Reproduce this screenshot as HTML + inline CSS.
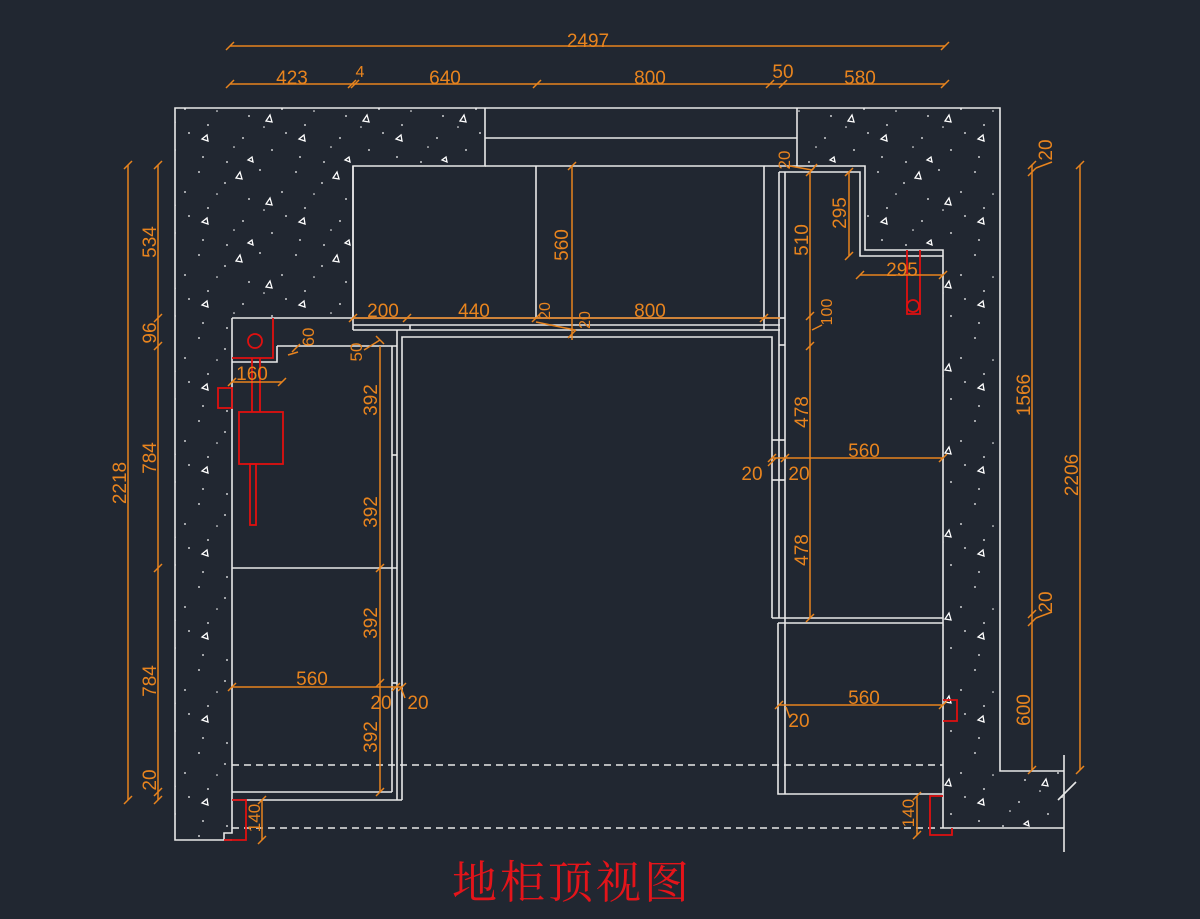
<!DOCTYPE html>
<html><head><meta charset="utf-8">
<style>
html,body{margin:0;padding:0;background:#212731;}
svg{display:block}
text{font-family:"Liberation Sans","DejaVu Sans",sans-serif;}
</style></head>
<body>
<svg width="1200" height="919" viewBox="0 0 1200 919" xmlns="http://www.w3.org/2000/svg">
<defs>
<pattern id="h" width="97" height="83" patternUnits="userSpaceOnUse">
<g fill="#fff">
<circle cx="5" cy="6" r="0.9"/><circle cx="31" cy="17" r="0.9"/><circle cx="66" cy="4" r="0.9"/><circle cx="88" cy="26" r="0.9"/>
<circle cx="14" cy="42" r="0.9"/><circle cx="49" cy="55" r="0.9"/><circle cx="78" cy="67" r="0.9"/><circle cx="9" cy="74" r="0.9"/>
<circle cx="55" cy="33" r="0.9"/><circle cx="92" cy="50" r="0.9"/><circle cx="33" cy="79" r="0.9"/><circle cx="23" cy="28" r="0.8"/>
<circle cx="70" cy="44" r="0.8"/><circle cx="40" cy="64" r="0.8"/>
</g>
<g fill="none" stroke="#fff" stroke-width="1.3">
<path d="M42 12 l4 -6 l2 7 z"/><path d="M8 56 l5 -4 l1 6 z"/><path d="M72 38 l4 -6 l2 7 z"/><path d="M58 74 l-4 3 l5 2 z"/>
</g>
</pattern>
</defs>
<rect width="1200" height="919" fill="#212731"/>
<path d="M175 108 H485 V166 H353 V317 H232 V833 H224 V840 H175 Z" fill="url(#h)"/>
<path d="M797 108 H1000 V771 H1064 V828 H943 V250 H865 V166 H797 Z" fill="url(#h)"/>

<g fill="none" stroke="#e8e8e8" stroke-width="1.6">
<path d="M232 840 H175 V108 H1000 V771 H1064"/>
<path d="M943 828 H1064"/><path d="M1064 755 V852"/>
<path d="M1058 800 L1076 782"/>
<path d="M232 318 V833 H224 V840"/>
<path d="M232 318 H353 V166 H485 V108"/>
<path d="M485 138 H797"/><path d="M485 166 H764"/>
<path d="M797 108 V166"/>
<path d="M764 166 H865 V250 H943 V828"/>
<path d="M779 172 H860 V256 H943"/>
<path d="M353 166 V330"/><path d="M536 166 V318"/>
<path d="M764 166 V330"/>
<path d="M353 318 H780"/><path d="M353 325 H780"/><path d="M353 330 H780"/>
<path d="M410 325 V330"/>
<path d="M402 800 V337 H772 V618"/>
<path d="M277 346 H397"/><path d="M277 346 V362 H232"/>
<path d="M392 346 V792"/><path d="M397 330 V800"/>
<path d="M232 568 H397"/>
<path d="M232 792 H392"/><path d="M232 800 H402"/>
<path d="M392 683 H397"/><path d="M392 455 H397"/>
<path d="M779 172 V618"/><path d="M785 172 V623"/>
<path d="M779 318 H785"/><path d="M779 345 H785"/>
<path d="M772 618 H943"/><path d="M778 623 H943"/>
<path d="M778 623 V794 H943"/><path d="M785 623 V794"/>
<path d="M772 440 H785"/><path d="M772 480 H785"/>
</g>
<g stroke="#e8e8e8" stroke-width="1.6" stroke-dasharray="7,5" fill="none">
<path d="M232 765 H943"/><path d="M232 828 H943"/>
</g>
<g fill="none" stroke="#e01010" stroke-width="1.8">
<path d="M273 318 V358 H232"/>
<circle cx="255" cy="341" r="7"/>
<path d="M252 358 V412 M260 358 V412"/>
<rect x="239" y="412" width="44" height="52"/>
<rect x="250" y="464" width="6" height="61"/>
<rect x="218" y="388" width="14" height="20"/>
<path d="M232 800 H246 V840 H224"/>
<path d="M907 250 V314 H920 V250"/>
<circle cx="913" cy="306" r="6"/>
<path d="M943 700 H957 V721 H943"/>
<path d="M943 796 H930 V835 H952 V828"/>
</g>
<g stroke="#e8841e" stroke-width="1.5" fill="none">
<path d="M230 46 H945"/><path d="M226 50 L234 42 M941 50 L949 42"/>
<path d="M230 84 H945"/>
<path d="M226 88 L234 80 M348 88 L356 80 M351 88 L359 80 M533 88 L541 80 M766 88 L774 80 M779 88 L787 80 M941 88 L949 80"/>
<path d="M128 165 V800"/><path d="M124 169 L132 161 M124 804 L132 796"/>
<path d="M158 165 V800"/>
<path d="M154 169 L162 161 M154 322 L162 314 M154 350 L162 342 M154 572 L162 564 M154 796 L162 788 M154 804 L162 796"/>
<path d="M1080 165 V770"/><path d="M1076 169 L1084 161 M1076 774 L1084 766"/>
<path d="M1032 165 V770"/>
<path d="M1028 169 L1036 161 M1028 176 L1036 168 M1028 618 L1036 610 M1028 626 L1036 618 M1028 774 L1036 766"/>
<path d="M1036 168 L1052 162 M1036 618 L1052 612"/>
<path d="M353 318 H780"/><path d="M349 322 L357 314 M403 322 L411 314 M532 322 L540 314 M760 322 L768 314"/>
<path d="M572 166 V340"/><path d="M568 170 L576 162 M568 338 L576 330"/>
<path d="M536 322 L575 330"/>
<path d="M380 346 V792"/><path d="M376 336 L384 344 M376 572 L384 564 M376 687 L384 679 M376 796 L384 788"/>
<path d="M364 350 L380 340"/>
<path d="M292 352 L300 344"/><path d="M288 355 L298 352"/>
<path d="M232 382 H282"/><path d="M228 386 L236 378 M278 386 L286 378"/>
<path d="M232 687 H402"/><path d="M228 691 L236 683 M392 691 L400 683 M398 691 L406 683"/>
<path d="M401 688 L405 698"/>
<path d="M849 172 V256"/><path d="M845 176 L853 168 M845 260 L853 252"/>
<path d="M817 164 L812 170"/><path d="M790 166 L812 170"/>
<path d="M860 275 H943"/><path d="M856 279 L864 271 M939 279 L947 271"/>
<path d="M810 172 V618"/><path d="M806 176 L814 168 M806 320 L814 312 M806 350 L814 342 M806 622 L814 614"/>
<path d="M812 330 L822 325"/>
<path d="M772 458 H943"/><path d="M768 462 L776 454 M781 462 L789 454 M939 462 L947 454"/>
<path d="M768 466 L776 458"/>
<path d="M779 705 H943"/><path d="M775 709 L783 701 M939 709 L947 701"/>
<path d="M786 707 L790 718"/>
<path d="M262 800 V840"/><path d="M258 804 L266 796 M258 844 L266 836"/>
<path d="M917 796 V835"/><path d="M913 800 L921 792 M913 839 L921 831"/>
</g>
<g fill="#e8841e" font-size="19">
<text x="588" y="47" text-anchor="middle">2497</text>
<text x="292" y="84" text-anchor="middle">423</text>
<text x="360" y="77" text-anchor="middle" font-size="16">4</text>
<text x="445" y="84" text-anchor="middle">640</text>
<text x="650" y="84" text-anchor="middle">800</text>
<text x="783" y="78" text-anchor="middle">50</text>
<text x="860" y="84" text-anchor="middle">580</text>
<text transform="translate(126,483) rotate(-90)" text-anchor="middle">2218</text>
<text transform="translate(156,242) rotate(-90)" text-anchor="middle">534</text>
<text transform="translate(156,333) rotate(-90)" text-anchor="middle">96</text>
<text transform="translate(156,458) rotate(-90)" text-anchor="middle">784</text>
<text transform="translate(156,681) rotate(-90)" text-anchor="middle">784</text>
<text transform="translate(156,780) rotate(-90)" text-anchor="middle">20</text>
<text transform="translate(1078,475) rotate(-90)" text-anchor="middle">2206</text>
<text transform="translate(1030,395) rotate(-90)" text-anchor="middle">1566</text>
<text transform="translate(1030,710) rotate(-90)" text-anchor="middle">600</text>
<text transform="translate(1052,150) rotate(-90)" text-anchor="middle">20</text>
<text transform="translate(1052,602) rotate(-90)" text-anchor="middle">20</text>
<text x="383" y="317" text-anchor="middle">200</text>
<text x="474" y="317" text-anchor="middle">440</text>
<text x="650" y="317" text-anchor="middle">800</text>
<text transform="translate(568,245) rotate(-90)" text-anchor="middle">560</text>
<text transform="translate(550,311) rotate(-90)" text-anchor="middle" font-size="16">20</text>
<text transform="translate(590,320) rotate(-90)" text-anchor="middle" font-size="16">20</text>
<text transform="translate(314,337) rotate(-90)" text-anchor="middle" font-size="17">60</text>
<text transform="translate(362,352) rotate(-90)" text-anchor="middle" font-size="17">50</text>
<text x="252" y="380" text-anchor="middle">160</text>
<text transform="translate(377,400) rotate(-90)" text-anchor="middle">392</text>
<text transform="translate(377,512) rotate(-90)" text-anchor="middle">392</text>
<text transform="translate(377,623) rotate(-90)" text-anchor="middle">392</text>
<text transform="translate(377,737) rotate(-90)" text-anchor="middle">392</text>
<text x="312" y="685" text-anchor="middle">560</text>
<text x="381" y="709" text-anchor="middle">20</text>
<text x="418" y="709" text-anchor="middle">20</text>
<text transform="translate(808,240) rotate(-90)" text-anchor="middle">510</text>
<text transform="translate(846,213) rotate(-90)" text-anchor="middle">295</text>
<text transform="translate(790,160) rotate(-90)" text-anchor="middle" font-size="17">20</text>
<text x="902" y="276" text-anchor="middle">295</text>
<text transform="translate(832,312) rotate(-90)" text-anchor="middle" font-size="16">100</text>
<text transform="translate(808,412) rotate(-90)" text-anchor="middle">478</text>
<text transform="translate(808,550) rotate(-90)" text-anchor="middle">478</text>
<text x="864" y="457" text-anchor="middle">560</text>
<text x="752" y="480" text-anchor="middle">20</text>
<text x="799" y="480" text-anchor="middle">20</text>
<text x="864" y="704" text-anchor="middle">560</text>
<text x="799" y="727" text-anchor="middle">20</text>
<text transform="translate(260,818) rotate(-90)" text-anchor="middle" font-size="17">140</text>
<text transform="translate(914,813) rotate(-90)" text-anchor="middle" font-size="17">140</text>
</g>
<text x="452" y="898" fill="#e4141a" font-size="45" letter-spacing="3" style="font-family:'Noto Serif CJK SC','Noto Sans CJK SC',serif">地柜顶视图</text>
</svg>
</body></html>
